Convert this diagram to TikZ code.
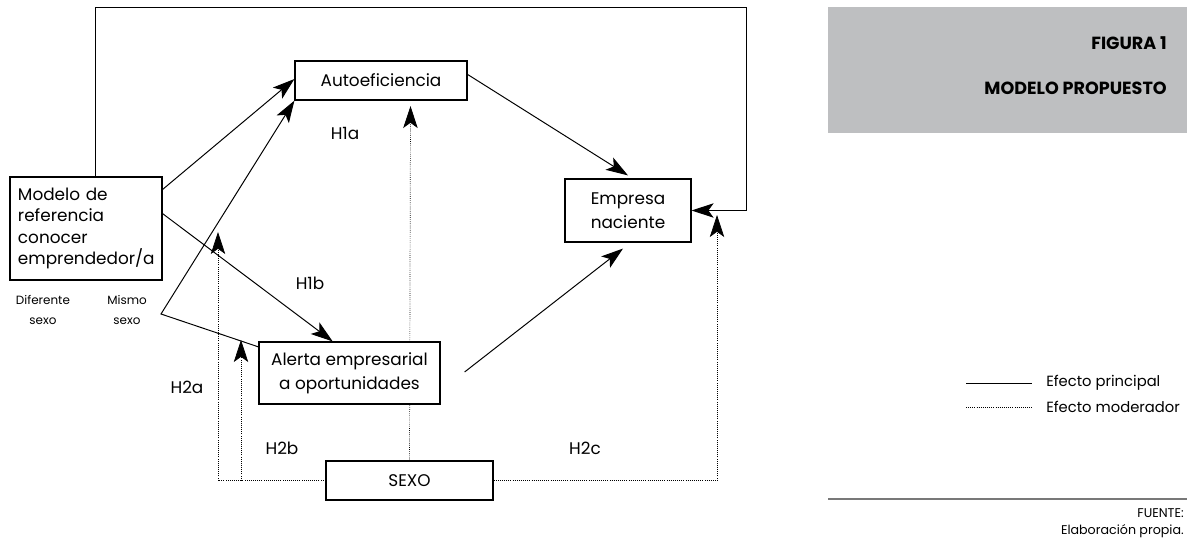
\documentclass[tikz,border=0pt]{standalone}
\usepackage{fontspec}
\setmainfont{Poppins}
\usetikzlibrary{calc}
\usetikzlibrary{arrows.meta}
\usetikzlibrary{backgrounds}
\definecolor{panelgray}{RGB}{190,191,193}
\definecolor{rulegray}{RGB}{120,120,120}
\newcommand{\txtsize}{\fontsize{12}{17}\selectfont}
\newcommand{\smallsize}{\fontsize{8.5}{14}\selectfont}
\tikzset{
  caja/.style={draw, line width=0.8pt, fill=white, inner sep=0pt, font=\txtsize, align=center},
  etiqueta/.style={font=\txtsize, inner sep=0pt},
  flecha/.style={-{Stealth[length=0.55cm,width=0.36cm,inset=0.13cm]}, line width=0.7pt},
  moderador/.style={densely dotted, line width=0.5pt, -{Stealth[length=0.55cm,width=0.36cm,inset=0.13cm]}}
}
\begin{document}
\begin{tikzpicture}[x=0.025cm,y=-0.025cm]
  \useasboundingbox (0,0) rectangle (1187,544);
  % boxes
  \node[caja, align=left, text width=3.4cm, inner xsep=0.2cm, minimum width=3.8cm, minimum height=2.575cm,
        font=\fontsize{12}{15.3}\selectfont] (modelo) at (86,228.5)
        {Modelo de\\referencia\\conocer\\emprendedor/a};
  \node[caja, minimum width=4.3cm, minimum height=0.975cm] (auto) at (381,80.5) {Autoeficiencia};
  \node[caja, minimum width=3.15cm, minimum height=1.575cm] (empresa) at (628,210.5) {Empresa\\naciente};
  \node[caja, minimum width=4.525cm, minimum height=1.55cm] (alerta) at (349.5,373) {Alerta empresarial\\a oportunidades};
  \node[caja, minimum width=4.175cm, minimum height=0.975cm] (sexo) at (409.5,480.5) {SEXO};
  \node[font=\smallsize, align=center, inner sep=0pt] (difsexo) at (43,310) {Diferente\\sexo};
  \node[font=\smallsize, align=center, inner sep=0pt] (missexo) at (127,310) {Mismo\\sexo};
  \node[etiqueta] (h1a) at (345,133) {H1a};
  \node[etiqueta] (h1b) at (310,283) {H1b};
  \node[etiqueta] (h2a) at (187,387) {H2a};
  \node[etiqueta] (h2b) at (282,448) {H2b};
  \node[etiqueta] (h2c) at (585,448) {H2c};
  \coordinate (vertice) at (161,314);
  \coordinate (esquina) at (746,7);
  \coordinate (puntaA) at (218,232);
  \coordinate (puntaB) at (241,340);
  \coordinate (puntaC) at (410.5,106);
  \coordinate (puntaD) at (717,215);
  % main effects
  \draw[flecha] (modelo.27) -- (auto.179);
  \draw[flecha] (modelo.11) -- (alerta.118);
  \draw[flecha] (alerta.164) -- (vertice) -- (auto.south west);
  \draw[flecha] (auto.4) -- ($(empresa.north)+(0,-3)$);
  \draw[flecha] ($(alerta.east)+(24,-1)$) -- ($(empresa.south)+(-5,6)$);
  \draw[flecha] ($(modelo.north)+(9,0)$) |- (esquina) |- (empresa.east);
  % moderating effects
  \begin{scope}[on background layer]
    \draw[moderador] (sexo.west) -| (puntaA);
    \draw[moderador] (sexo.west -| puntaB) -- (puntaB);
    \draw[moderador] (sexo.north) -- (puntaC);
    \draw[moderador] (sexo.east) -| (puntaD);
  \end{scope}
  % right panel
  \fill[panelgray] (828,7) rectangle (1187,133);
  \node[anchor=east, font=\fontsize{12.5}{15}\selectfont\bfseries, inner sep=0pt] (figura) at (1167,43) {FIGURA 1};
  \node[anchor=east, font=\fontsize{12.5}{15}\selectfont\bfseries, inner sep=0pt] (titulo) at (1167,88) {MODELO PROPUESTO};
  \coordinate (legA) at (966,383);
  \coordinate (legB) at (1032,383);
  \coordinate (legC) at (966,407);
  \coordinate (legD) at (1032,407);
  \draw[line width=0.7pt] (legA) -- (legB);
  \draw[densely dotted, line width=0.5pt] (legC) -- (legD);
  \node[anchor=west, font=\fontsize{10.5}{13}\selectfont, inner sep=0pt] (principal) at (1046,383) {Efecto principal};
  \node[anchor=west, font=\fontsize{10.5}{13}\selectfont, inner sep=0pt] (moder) at (1046,407) {Efecto moderador};
  \draw[rulegray, line width=0.9pt] (828,499) -- (1187,499);
  \node[anchor=east, font=\fontsize{9}{11}\selectfont, inner sep=0pt] (fuente) at (1184,513) {FUENTE:};
  \node[anchor=east, font=\fontsize{9}{11}\selectfont, inner sep=0pt] (elab) at (1184,531) {Elaboración propia.};
\end{tikzpicture}
\end{document}
